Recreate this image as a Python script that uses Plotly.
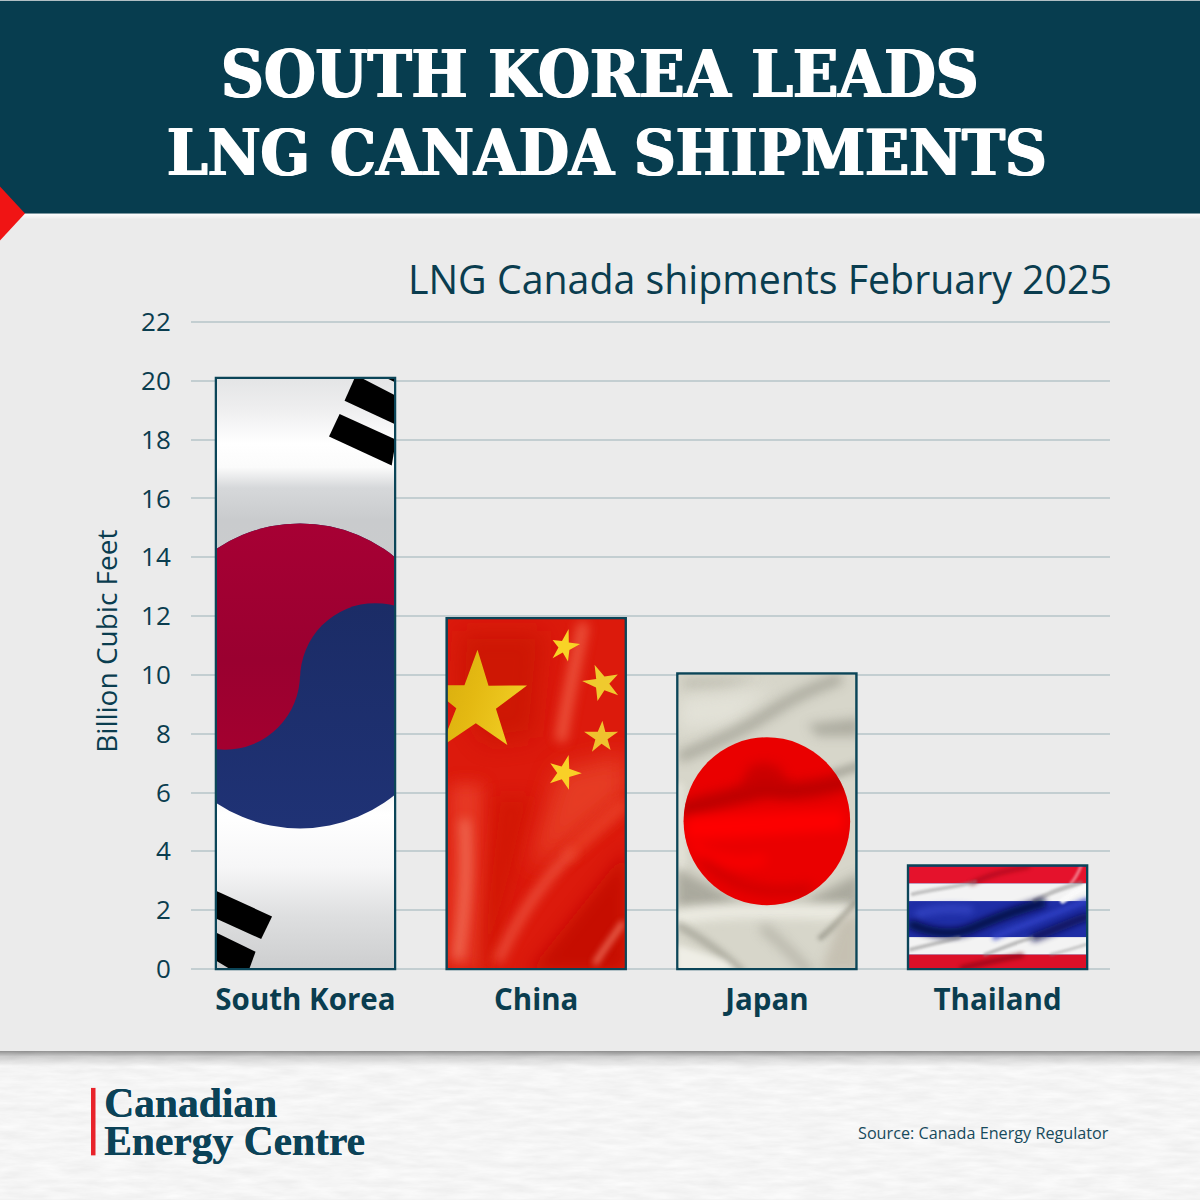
import base64
import math
import plotly.graph_objects as go

# Shipment volumes, billion cubic feet
countries = ["South Korea", "China", "Japan", "Thailand"]
volumes = [20.1, 11.93, 10.05, 3.52]
bar_fill = ["#a50034", "#d9160b", "#d6d5c9", "#1c2aa0"]
y_ticks = list(range(0, 23, 2))

INK = "#0a3d4f"
PAGE = 1200
PLOT_L, PLOT_R, PLOT_T, PLOT_B = 191, 1110, 319.5, 971
Y_RANGE = [-0.068, 22.068]
BAR_W = 0.776
X_RANGE = [-0.4963, 3.4873]


def px(x):
    return (x - PLOT_L) / (PLOT_R - PLOT_L)


def py(y):
    return (PLOT_B - y) / (PLOT_B - PLOT_T)


def uri(svg):
    return "data:image/svg+xml;base64," + base64.b64encode(svg.encode()).decode()


def blur_defs(box):
    x, y, w, h = box
    out = ""
    for s in (2, 4, 6, 10, 16, 24, 36):
        out += (f'<filter id="b{s}" filterUnits="userSpaceOnUse" x="{x-80}" y="{y-80}" '
                f'width="{w+160}" height="{h+160}"><feGaussianBlur stdDeviation="{s}"/></filter>')
    return out


def fold(d, color, width, blur, opacity=1.0):
    return (f'<path d="{d}" fill="none" stroke="{color}" stroke-width="{width}" '
            f'stroke-linecap="round" stroke-linejoin="round" opacity="{opacity}" filter="url(#b{blur})"/>')


def patch(d, color, blur, opacity=1.0):
    return f'<path d="{d}" fill="{color}" opacity="{opacity}" filter="url(#b{blur})"/>'


def star(tips, fill, ratio=0.38):
    cx = sum(t[0] for t in tips) / 5
    cy = sum(t[1] for t in tips) / 5
    angles = [math.atan2(t[1] - cy, t[0] - cx) for t in tips]
    radius = sum(math.hypot(t[0] - cx, t[1] - cy) for t in tips) / 5
    pts = []
    for i, t in enumerate(tips):
        pts.append(t)
        a0, a1 = angles[i], angles[(i + 1) % 5]
        mid = math.atan2(math.sin(a0) + math.sin(a1), math.cos(a0) + math.cos(a1))
        pts.append((cx + ratio * radius * math.cos(mid), cy + ratio * radius * math.sin(mid)))
    return '<polygon points="' + " ".join(f"{a:.1f},{b:.1f}" for a, b in pts) + f'" fill="{fill}"/>'


def wrap(box, size, body, defs=""):
    x, y, w, h = box
    return (f'<svg xmlns="http://www.w3.org/2000/svg" width="{size[0]}" height="{size[1]}" '
            f'viewBox="{x} {y} {w} {h}" preserveAspectRatio="none"><defs>{blur_defs(box)}{defs}'
            f'<clipPath id="flag"><rect x="{x}" y="{y}" width="{w}" height="{h}"/></clipPath></defs>'
            f'<g clip-path="url(#flag)">{body}</g></svg>')


def korea_flag():
    box = (216, 378, 179, 591)
    stops = [(0, "#e4e5e6"), (.05, "#eeeeef"), (.11, "#ffffff"), (.15, "#fbfbfb"), (.185, "#d6d8da"),
             (.24, "#c9cbcd"), (.5, "#cccccc"), (.74, "#ffffff"), (.83, "#f6f6f7"), (.91, "#dedfe0"), (1, "#cdcecf")]
    grad = "".join(f'<stop offset="{o}" stop-color="{c}"/>' for o, c in stops)
    defs = (f'<linearGradient id="bg" x1="0" y1="0" x2="0" y2="1">{grad}</linearGradient>'
            '<linearGradient id="red" gradientUnits="userSpaceOnUse" x1="0" y1="523" x2="0" y2="750">'
            '<stop offset="0" stop-color="#a70034"/><stop offset=".6" stop-color="#9a0030"/>'
            '<stop offset="1" stop-color="#a3002f"/></linearGradient>'
            '<linearGradient id="blue" gradientUnits="userSpaceOnUse" x1="0" y1="603" x2="0" y2="829">'
            '<stop offset="0" stop-color="#1b2c66"/><stop offset="1" stop-color="#1f3275"/></linearGradient>')
    body = '<rect x="216" y="378" width="179" height="591" fill="url(#bg)"/>'
    body += '<circle cx="300" cy="676" r="153" fill="url(#blue)"/>'
    body += '<path d="M147 676 A153 153 0 0 1 453 676 Z" fill="url(#red)"/>'
    body += '<circle cx="376" cy="679" r="76" fill="url(#blue)"/>'
    body += '<circle cx="224" cy="674" r="76" fill="url(#red)"/>'
    bars = ["355.7,376 345,400 397,424 397,395 360,376", "340,413.3 329.3,435.7 392.7,465 397,439",
            "389,378 397,382 397,376", "214,891 271.7,917.3 260.7,940 214,919",
            "214,933 255,952.7 248.3,971 230.7,971 214,961"]
    for pts in bars:
        body += f'<polygon points="{pts}" fill="#000"/>'
    return wrap(box, (179, 591), body, defs)


def china_flag():
    box = (33, 25, 540, 1053)
    defs = ('<linearGradient id="gold" x1="0" y1="0" x2="1" y2="0.3"><stop offset="0" stop-color="#d3a80c"/>'
            '<stop offset=".55" stop-color="#e4b912"/><stop offset="1" stop-color="#efcb22"/></linearGradient>')
    body = '<rect x="33" y="25" width="540" height="1053" fill="#dc1a0c"/>'
    body += patch("M70 60 L330 60 L300 380 L150 400 L60 250 Z", "#c61606", 36, .65)
    body += patch("M40 520 L140 520 L140 1078 L30 1078 Z", "#e9412a", 24, .8)
    body += patch("M370 480 L580 430 L580 560 L350 740 L280 780 Z", "#e8442b", 36, .8)
    body += patch("M280 1090 L580 720 L580 1090 Z", "#c40b00", 24, .95)
    body += patch("M180 560 L290 560 L240 780 L160 1078 L120 1078 Z", "#cc1205", 24, .55)
    body += fold("M445 50 C425 150 395 280 380 380", "#f06249", 36, 16, .8)
    body += fold("M85 640 C95 780 85 900 65 1040", "#f27a64", 28, 16, .8)
    body += fold("M190 1050 C235 950 300 840 410 730", "#f0604a", 26, 16, .85)
    body += fold("M410 730 C470 670 520 630 565 590", "#ec4a2e", 40, 16, .65)
    body += fold("M485 1060 C510 1020 540 980 565 945", "#f07660", 18, 10, .85)
    body += star([(124, 117), (275, 225), (215, 405), (13, 410), (-27, 225)], "url(#gold)", .39)
    body += star([(402, 55), (437, 100), (400, 153), (353, 143), (353, 88)], "#f8d326")
    body += star([(481, 163), (552, 192), (553, 255), (490, 272), (443, 212)], "#efca2e")
    body += star([(505, 332), (553, 365), (530, 420), (473, 425), (449, 365)], "#efc22e")
    body += star([(402, 435), (442, 490), (403, 540), (345, 520), (346, 460)], "#f9d027")
    return wrap(box, (180, 351), body, defs)


def japan_flag():
    box = (36, 39, 540, 888)
    defs = '<clipPath id="sun"><circle cx="306" cy="483" r="254"/></clipPath>'
    body = '<rect x="36" y="39" width="540" height="888" fill="#d7d6ca"/>'
    body += patch("M50 50 L280 50 L180 80 L50 85 Z", "#b9b8ac", 16, .7)
    body += patch("M40 110 L320 80 L200 190 L40 210 Z", "#e6e5dc", 24, .75)
    body += fold("M50 285 C150 245 240 205 330 145 C400 100 460 75 520 55", "#9a998d", 34, 16, .7)
    body += patch("M430 190 L590 170 L590 225 L460 225 Z", "#a3a296", 16, .8)
    body += fold("M480 350 L590 315", "#a3a296", 30, 10, .75)
    body += fold("M40 380 L45 620", "#eeede4", 30, 10, .5)
    body += patch("M30 625 L120 670 L220 725 L420 725 L590 640 L590 735 L30 745 Z", "#a3a296", 16, .85)
    body += fold("M30 775 C150 750 300 750 560 760", "#f1f0e7", 40, 16, .95)
    body += fold("M40 800 C90 830 160 870 225 935", "#8f8e82", 24, 10, .55)
    body += fold("M300 810 C350 850 390 890 430 935", "#a09f93", 30, 16, .55)
    body += fold("M470 835 C510 805 540 770 575 730", "#8a897d", 18, 6, .6)
    body += patch("M525 790 L590 730 L590 940 L470 940 Z", "#c0b9aa", 16, .75)
    body += patch("M30 855 L180 905 L220 940 L30 940 Z", "#f2f1e9", 10, .9)
    body += '<g clip-path="url(#sun)"><rect x="36" y="220" width="540" height="530" fill="#ea0000"/>'
    body += fold("M60 445 C150 420 240 400 300 385 C380 400 460 385 540 365", "#b60000", 52, 16, .85)
    body += patch("M250 320 Q300 290 350 325 L380 390 L220 390 Z", "#c00000", 16, .7)
    body += patch("M60 470 L540 450 L540 510 L60 540 Z", "#ff0000", 16, .9)
    body += fold("M120 600 C180 670 280 710 430 690", "#bf0000", 36, 16, .55)
    body += fold("M90 560 C150 600 220 620 290 600", "#ff0000", 34, 16, .7)
    body += '</g>'
    return wrap(box, (180, 296), body, defs)


def thailand_flag():
    box = (39, 45, 537, 312)
    stripes = [(45, 52, "#e5122c"), (97, 55, "#f3f3f3"), (152, 110, "#1f2ea6"), (262, 54, "#f3f3f3"), (316, 41, "#dc1028")]
    body = "".join(f'<rect x="39" y="{y}" width="537" height="{h}" fill="{c}"/>' for y, h, c in stripes)
    body += fold("M230 97 C270 75 320 60 400 45", "#7a0010", 14, 6, .45)
    body += fold("M530 97 C545 80 552 65 560 45", "#fff0f0", 10, 4, .45)
    body += fold("M50 130 C110 115 170 110 240 92", "#8a8a8a", 12, 4, .45)
    body += fold("M420 150 C460 130 490 115 560 95", "#8a8a8a", 14, 4, .5)
    body += fold("M70 190 C110 175 160 172 220 178", "#3d4fd0", 28, 10, .55)
    body += fold("M50 225 C110 250 170 260 230 235 C300 205 380 175 440 158", "#05083c", 30, 10, .85)
    body += fold("M300 262 C370 230 470 195 576 150", "#3343c8", 18, 6, .75)
    body += fold("M420 262 C480 240 530 215 576 200", "#080c4a", 26, 10, .8)
    body += fold("M505 150 C530 130 560 115 576 108", "#fafafa", 18, 4, .9)
    body += fold("M45 300 C90 290 140 275 190 264", "#8a8a8a", 12, 4, .5)
    body += fold("M270 316 C310 300 360 280 410 264", "#8a8a8a", 12, 4, .5)
    body += fold("M470 316 C510 305 545 295 576 285", "#8a8a8a", 10, 4, .4)
    body += fold("M200 357 C270 340 320 330 380 318", "#7a0010", 16, 6, .6)
    return wrap(box, (179, 104), body)


def backdrop():
    # Footer paper grain, content panel, and the soft edges around the panel
    body = (
        '<defs><filter id="grain" x="0" y="0" width="100%" height="100%" color-interpolation-filters="sRGB">'
        '<feTurbulence type="fractalNoise" baseFrequency="0.03 0.16" numOctaves="4" seed="7"/>'
        '<feColorMatrix type="matrix" values="0.07 0 0 0 0.925 0.07 0 0 0 0.925 0.07 0 0 0 0.925 0 0 0 0 1"/></filter>'
        '<linearGradient id="edge" x1="0" y1="0" x2="0" y2="1"><stop offset="0" stop-color="#000" stop-opacity=".42"/>'
        '<stop offset=".35" stop-color="#000" stop-opacity=".16"/><stop offset="1" stop-color="#000" stop-opacity="0"/></linearGradient>'
        '<linearGradient id="glow" x1="0" y1="0" x2="0" y2="1"><stop offset="0" stop-color="#fff" stop-opacity=".95"/>'
        '<stop offset="1" stop-color="#fff" stop-opacity="0"/></linearGradient></defs>'
        '<rect x="0" y="1051" width="1200" height="149" filter="url(#grain)"/>'
        '<rect x="0" y="1051" width="1200" height="16" fill="url(#edge)"/>'
        '<rect x="0" y="213" width="1200" height="838" fill="#ebebeb"/>'
        '<rect x="0" y="213" width="1200" height="6" fill="url(#glow)"/>'
    )
    return f'<svg xmlns="http://www.w3.org/2000/svg" width="1200" height="1200" viewBox="0 0 1200 1200">{body}</svg>'


flag_art = [korea_flag(), china_flag(), japan_flag(), thailand_flag()]

fig = go.Figure(go.Bar(
    x=countries, y=volumes, width=BAR_W,
    marker=dict(color=bar_fill, line=dict(color="#0b4558", width=2.5)),
    hoverinfo="x+y",
))

# Flag artwork sits inside each bar, anchored to the bar's own value
unit_x = (PLOT_R - PLOT_L) / (X_RANGE[1] - X_RANGE[0])
unit_y = (PLOT_B - PLOT_T) / (Y_RANGE[1] - Y_RANGE[0])
inset_x, inset_y = 1 / unit_x, 1 / unit_y
images = [dict(source=uri(backdrop()), xref="paper", yref="paper", x=px(0), y=py(0),
               sizex=PAGE / (PLOT_R - PLOT_L), sizey=PAGE / (PLOT_B - PLOT_T),
               xanchor="left", yanchor="top", sizing="stretch", layer="below")]
for i, (value, art) in enumerate(zip(volumes, flag_art)):
    images.append(dict(source=uri(art), xref="x", yref="y",
                       x=i - BAR_W / 2 + inset_x, y=value - inset_y,
                       sizex=BAR_W - 2 * inset_x, sizey=value - 2 * inset_y,
                       xanchor="left", yanchor="top", sizing="stretch", layer="above"))

header = dict(type="rect", xref="paper", yref="paper", x0=px(0), x1=px(1200), y0=py(0), y1=py(213),
              fillcolor="#073d4f", line_width=0, layer="below")
wedge_path = f"M {px(0)} {py(186)} L {px(25)} {py(213)} L {px(0)} {py(240)} Z"
wedge = dict(type="path", xref="paper", yref="paper", path=wedge_path, fillcolor="#f01414", line_width=0, layer="below")
logo_rule = dict(type="rect", xref="paper", yref="paper", x0=px(91), x1=px(95.5), y0=py(1088), y1=py(1155.5),
                 fillcolor="#e8232a", line_width=0, layer="below")


def label(text, x, y, size, family, color, anchor="left", bold=False, angle=0, shadow=None):
    font = dict(size=size, family=family, color=color, weight=700 if bold else 400)
    if shadow:
        font["shadow"] = shadow
    return dict(text=text, xref="paper", yref="paper", x=px(x), y=py(y), xanchor=anchor, yanchor="middle",
                showarrow=False, font=font, textangle=angle, borderpad=0, borderwidth=0)


SERIF = "DejaVu Serif Condensed"
HEAVY = "1px 0 0 #fff, -1px 0 0 #fff"
texts = [
    label("SOUTH KOREA LEADS", 599.5, 73, 66, SERIF, "#ffffff", "center", True, shadow=HEAVY),
    label("LNG CANADA SHIPMENTS", 606.5, 152, 64.3, SERIF, "#ffffff", "center", True, shadow=HEAVY),
    label("LNG Canada shipments February 2025", 1112, 278, 39.3, "Open Sans", INK, "right"),
    label("Billion Cubic Feet", 106, 641.5, 28, "Open Sans", INK, "center", angle=-90),
    label("Canadian", 104, 1103, 41.5, "Liberation Serif", "#0b4257", "left", True, shadow="0.4px 0 0 #0b4257"),
    label("Energy Centre", 104, 1141, 41.5, "Liberation Serif", "#0b4257", "left", True, shadow="0.4px 0 0 #0b4257"),
    label("Source: Canada Energy Regulator", 1108.5, 1133, 16.2, "Open Sans", "#174a5c", "right"),
]

fig.update_layout(
    width=PAGE, height=PAGE, autosize=False, showlegend=False,
    margin=dict(l=PLOT_L, r=PAGE - PLOT_R, t=PLOT_T, b=PAGE - PLOT_B, pad=0),
    paper_bgcolor="#ebebeb", plot_bgcolor="rgba(0,0,0,0)",
    images=images, shapes=[header, wedge, logo_rule], annotations=texts,
    xaxis=dict(range=X_RANGE, type="category", categoryorder="array", categoryarray=countries,
               showgrid=False, showline=False, zeroline=False, ticks="outside", ticklen=0,
               ticklabelstandoff=3, tickfont=dict(size=29.5, family="Open Sans", color=INK, weight=700)),
    yaxis=dict(range=Y_RANGE, tickvals=y_ticks, showgrid=True, gridcolor="#c3ced1", gridwidth=1.5,
               zeroline=False, showline=False, ticks="outside", ticklen=0, ticklabelstandoff=14,
               tickfont=dict(size=26, family="Open Sans", color=INK)),
)

fig.write_html("out.html", config=dict(displayModeBar=False))
